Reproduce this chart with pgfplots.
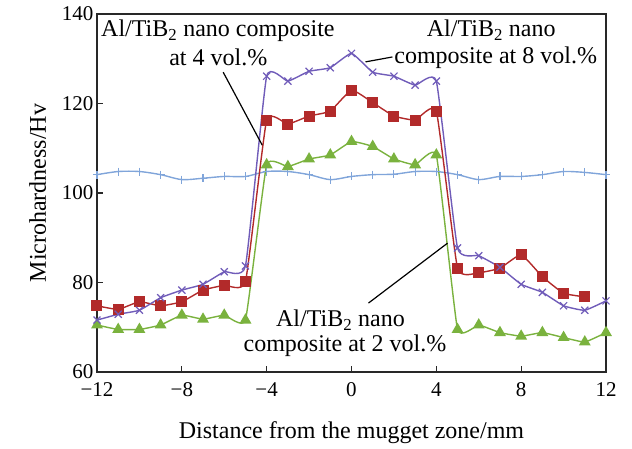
\documentclass[border=0pt]{standalone}
\usepackage{fontspec}
\setmainfont{Liberation Serif}
\usepackage{pgfplots}
\pgfplotsset{compat=1.18}
\definecolor{cpurp}{RGB}{112,92,185}
\definecolor{cred}{RGB}{178,42,42}
\definecolor{cgreen}{RGB}{122,178,62}
\definecolor{cblue}{RGB}{128,165,218}
\definecolor{caxis}{RGB}{40,40,40}
\begin{document}
\begin{tikzpicture}
\useasboundingbox (-97pt,-76pt) rectangle (535pt,372pt);
\begin{axis}[
  at={(0,0)}, anchor=south west,
  scale only axis, width=509pt, height=358pt,
  xmin=-12, xmax=12, ymin=60, ymax=140,
  xtick={-12,-8,-4,0,4,8,12},
  xticklabels={−12,−8,−4,0,4,8,12},
  ytick={60,80,100,120,140},
  yticklabels={60,80,100,120,140},
  xtick pos=bottom, ytick pos=left,
  tick align=inside, major tick length=6pt,
  axis line style={caxis, line width=1.3pt},
  every tick/.style={caxis, line width=1.2pt},
  tick label style={font=\fontsize{21}{24}\selectfont, text=black},
  xticklabel style={yshift=-7pt},
  label style={font=\fontsize{24}{28}\selectfont},
  xlabel={Distance from the mugget zone/mm},
  xlabel style={yshift=-18pt},
  ylabel={Microhardness/Hv},
  ylabel style={yshift=9pt},
  clip=false,
]
\addplot[cblue, line width=1.4pt, smooth, mark=+, mark size=4pt, mark options={line width=1.1pt}] coordinates {
(-12,104.1) (-11,104.8) (-10,104.8) (-9,104.1) (-8,103.0) (-7,103.3) (-6,103.7) (-5,103.7)
(-4,104.8) (-3,104.8) (-2,104.1) (-1,103.0) (0,103.7) (1,104.1) (2,104.2) (3,104.8) (4,104.8)
(5,104.1) (6,103.0) (7,103.7) (8,103.7) (9,104.1) (10,104.8) (11,104.6) (12,104.1)};
\addplot[cgreen, line width=1.4pt, smooth, tension=0.22, mark=triangle*, mark size=5.5pt, mark options={solid}] coordinates {
(-12,70.5) (-11,69.5) (-10,69.5) (-9,70.5) (-8,72.7) (-7,71.8) (-6,72.7) (-5,71.6)
(-4,106.3) (-3,105.9) (-2,107.6) (-1,108.5) (0,111.5) (1,110.4) (2,107.6) (3,106.3) (4,108.5)
(5,69.5) (6,70.5) (7,68.8) (8,68.0) (9,68.8) (10,67.7) (11,66.7) (12,68.8)};
\addplot[cred, line width=1.4pt, smooth, tension=0.25, mark=square*, mark size=4.8pt, mark options={solid}] coordinates {
(-12,74.8) (-11,74.0) (-10,75.7) (-9,74.8) (-8,75.7) (-7,78.3) (-6,79.4) (-5,80.2)
(-4,116.3) (-3,115.4) (-2,117.2) (-1,118.3) (0,123.0) (1,120.2) (2,117.2) (3,116.3) (4,118.3)
(5,83.2) (6,82.2) (7,83.2) (8,86.2) (9,81.3) (10,77.6) (11,76.8)};
\addplot[cpurp, line width=1.4pt, smooth, tension=0.25, mark=x, mark size=5pt, mark options={line width=1.2pt}] coordinates {
(-12,71.6) (-11,72.9) (-10,73.8) (-9,76.6) (-8,78.3) (-7,79.6) (-6,82.4) (-5,83.7)
(-4,126.1) (-3,125.0) (-2,127.2) (-1,128.0) (0,131.2) (1,127.0) (2,126.1) (3,124.1) (4,125.0)
(5,87.7) (6,86.0) (7,83.4) (8,79.6) (9,77.8) (10,74.8) (11,73.8) (12,75.9)};
% annotations
\begin{scope}[every node/.style={font=\fontsize{24}{28}\selectfont, inner sep=0pt}]
\node[anchor=base west] at (axis cs:-11.81,134.9) {Al/TiB\textsubscript{2} nano composite};
\node[anchor=base] at (axis cs:-6.28,128.6) {at 4 vol.\%};
\node[anchor=base] at (axis cs:6.59,134.9) {Al/TiB\textsubscript{2} nano};
\node[anchor=base] at (axis cs:6.80,129.0) {composite at 8 vol.\%};
\node[anchor=base] at (axis cs:-0.52,70.1) {Al/TiB\textsubscript{2} nano};
\node[anchor=base] at (axis cs:-0.31,64.5) {composite at 2 vol.\%};
\end{scope}
\draw[black, line width=1.2pt] (axis cs:-6.05,127.0) -- (axis cs:-4.21,110.7);
\draw[black, line width=1.2pt] (axis cs:0.66,129.3) -- (axis cs:1.93,130.4);
\draw[black, line width=1.2pt] (axis cs:0.80,75.4) -- (axis cs:4.53,88.8);
\end{axis}
\end{tikzpicture}
\end{document}
